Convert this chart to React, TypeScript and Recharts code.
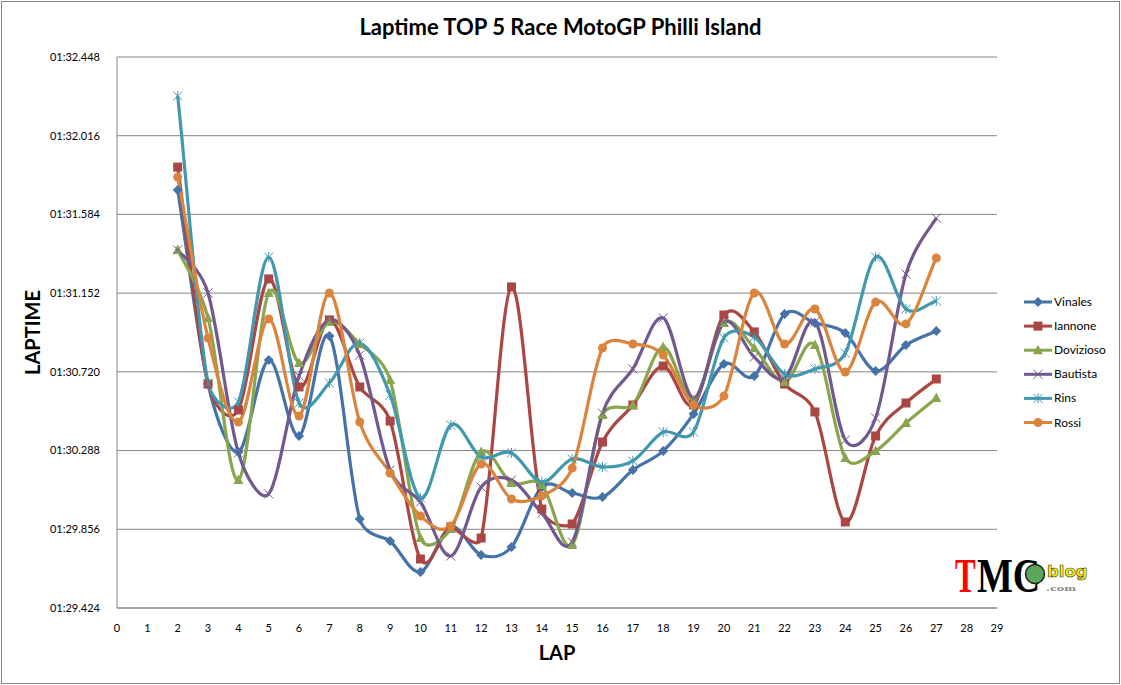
import { CartesianGrid, Line, LineChart, XAxis, YAxis } from "recharts";

const laps = [2, 3, 4, 5, 6, 7, 8, 9, 10, 11, 12, 13, 14, 15, 16, 17, 18, 19, 20, 21, 22, 23, 24, 25, 26, 27];

// lap times in seconds
const vinales = [91.718, 90.653, 90.28, 90.785, 90.368, 90.917, 89.912, 89.792, 89.622, 89.869, 89.715, 89.759, 90.088, 90.055, 90.033, 90.181, 90.286, 90.489, 90.763, 90.697, 91.037, 90.988, 90.933, 90.725, 90.867, 90.944];
const iannone = [91.844, 90.653, 90.511, 91.23, 90.637, 91.005, 90.637, 90.45, 89.693, 89.869, 89.808, 91.186, 89.967, 89.885, 90.335, 90.538, 90.752, 90.538, 91.032, 90.939, 90.653, 90.5, 89.896, 90.368, 90.549, 90.681];
const dovizioso = [91.389, 91.016, 90.126, 91.153, 90.769, 90.994, 90.873, 90.675, 89.808, 89.858, 90.28, 90.11, 90.099, 89.77, 90.483, 90.538, 90.856, 90.566, 90.988, 90.851, 90.664, 90.867, 90.247, 90.286, 90.439, 90.576];
const bautista = [91.389, 91.153, 90.275, 90.05, 90.697, 91.005, 90.812, 90.181, 90.006, 89.709, 90.088, 90.126, 89.945, 89.786, 90.494, 90.736, 91.016, 90.576, 90.994, 90.801, 90.686, 90.994, 90.346, 90.467, 91.257, 91.564];
const rins = [92.234, 90.659, 90.555, 91.35, 90.549, 90.659, 90.878, 90.593, 90.028, 90.428, 90.253, 90.275, 90.115, 90.242, 90.198, 90.231, 90.39, 90.39, 90.906, 90.911, 90.708, 90.736, 90.823, 91.35, 91.065, 91.109];
const rossi = [91.789, 90.906, 90.445, 91.01, 90.478, 91.153, 90.445, 90.165, 89.929, 89.874, 90.214, 90.022, 90.039, 90.192, 90.851, 90.873, 90.812, 90.538, 90.587, 91.153, 90.873, 91.065, 90.719, 91.103, 90.983, 91.345];

const yTicks = [89.424, 89.856, 90.288, 90.72, 91.152, 91.584, 92.016, 92.448];
const xTicks = [0, 1, 2, 3, 4, 5, 6, 7, 8, 9, 10, 11, 12, 13, 14, 15, 16, 17, 18, 19, 20, 21, 22, 23, 24, 25, 26, 27, 28, 29];

const series = [
  { key: "Vinales", values: vinales, color: "#4572A7", marker: "diamond" },
  { key: "Iannone", values: iannone, color: "#AA4643", marker: "square" },
  { key: "Dovizioso", values: dovizioso, color: "#89A54E", marker: "triangle" },
  { key: "Bautista", values: bautista, color: "#71588F", marker: "cross" },
  { key: "Rins", values: rins, color: "#4198AF", marker: "star" },
  { key: "Rossi", values: rossi, color: "#DB843D", marker: "circle" },
];

const data = laps.map((lap, i) => {
  const row: Record<string, number> = { lap };
  series.forEach((s) => {
    row[s.key] = s.values[i];
  });
  return row;
});

const FONT = "Lato, 'Open Sans', sans-serif";

function formatTime(v: number): string {
  const min = Math.floor(v / 60);
  const sec = v - min * 60;
  return `${String(min).padStart(2, "0")}:${sec.toFixed(3).padStart(6, "0")}`;
}

const dist = (a: number[], b: number[]) => Math.hypot(a[0] - b[0], a[1] - b[1]);

// Excel's smoothed line: 1/6 tangents, cut back when a segment is short next to its neighbours
function excelCurve(ctx: any) {
  let pts: number[][] = [];
  return {
    areaStart() {},
    areaEnd() {},
    lineStart() {
      pts = [];
    },
    point(x: number, y: number) {
      pts.push([+x, +y]);
    },
    lineEnd() {
      if (!pts.length) return;
      ctx.moveTo(pts[0][0], pts[0][1]);
      for (let i = 0; i < pts.length - 1; i++) {
        const first = i === 0;
        const last = i === pts.length - 2;
        const p0 = pts[Math.max(i - 1, 0)];
        const p1 = pts[i];
        const p2 = pts[i + 1];
        const p3 = pts[Math.min(i + 2, pts.length - 1)];
        const d02 = dist(p0, p2);
        const d12 = dist(p1, p2);
        const d13 = dist(p1, p3);
        let f1 = first ? 1 / 3 : 1 / 6;
        let f2 = last ? 1 / 3 : 1 / 6;
        const big1 = d02 / 6 >= d12 / 2;
        const big2 = d13 / 6 >= d12 / 2;
        if (big1 && big2) {
          f1 = d12 / d02 / 2;
          f2 = d12 / d13 / 2;
        } else if (big1) {
          f1 = d12 / d02 / 2;
          f2 = (d12 / d13 / 2) * (d13 / d02);
        } else if (big2) {
          f1 = (d12 / d02 / 2) * (d02 / d13);
          f2 = d12 / d13 / 2;
        }
        ctx.bezierCurveTo(
          p1[0] + (p2[0] - p0[0]) * f1,
          p1[1] + (p2[1] - p0[1]) * f1,
          p2[0] - (p3[0] - p1[0]) * f2,
          p2[1] - (p3[1] - p1[1]) * f2,
          p2[0],
          p2[1],
        );
      }
    },
  };
}

function Marker({ kind, cx, cy, color }: { kind: string; cx: number; cy: number; color: string }) {
  if (kind === "diamond")
    return <path d={`M${cx} ${cy - 5}L${cx + 5} ${cy}L${cx} ${cy + 5}L${cx - 5} ${cy}Z`} fill={color} />;
  if (kind === "square") return <rect x={cx - 4.5} y={cy - 4.5} width={9} height={9} fill={color} />;
  if (kind === "triangle")
    return <path d={`M${cx} ${cy - 5.5}L${cx + 5} ${cy + 4}L${cx - 5} ${cy + 4}Z`} fill={color} />;
  if (kind === "cross")
    return (
      <path d={`M${cx - 4.5} ${cy - 4.5}L${cx + 4.5} ${cy + 4.5}M${cx - 4.5} ${cy + 4.5}L${cx + 4.5} ${cy - 4.5}`} stroke={color} strokeWidth={1} fill="none" />
    );
  if (kind === "star")
    return (
      <path
        d={`M${cx - 4.5} ${cy - 4.5}L${cx + 4.5} ${cy + 4.5}M${cx - 4.5} ${cy + 4.5}L${cx + 4.5} ${cy - 4.5}M${cx} ${cy - 5}L${cx} ${cy + 5}`}
        stroke={color}
        strokeWidth={1}
        fill="none"
      />
    );
  return <circle cx={cx} cy={cy} r={4.5} fill={color} />;
}

function ChartLegend() {
  return (
    <svg width={100} height={145} style={{ position: "absolute", left: 1020, top: 290 }}>
      {series.map((s, i) => {
        const y = 12 + i * 24.1;
        return (
          <g key={s.key}>
            <line x1={4} x2={32} y1={y} y2={y} stroke={s.color} strokeWidth={3} />
            <Marker kind={s.marker} cx={18} cy={y} color={s.color} />
            <text x={34} y={y + 4} fontFamily={FONT} fontSize={12} fill="#000">
              {s.key}
            </text>
          </g>
        );
      })}
    </svg>
  );
}

function Logo() {
  return (
    <svg width={170} height={90} style={{ position: "absolute", left: 940, top: 520 }}>
      <text transform="translate(15 72) scale(1 1.6)" fontFamily="'Liberation Serif', serif" fontWeight="bold" fontSize={31} fill="#ff0000">
        T
      </text>
      <text transform="translate(37 72) scale(1 1.3)" fontFamily="'Liberation Serif', serif" fontWeight="bold" fontSize={38} fill="#000">
        MC
      </text>
      <circle cx={95} cy={54} r={9.5} fill="#5aa65a" stroke="#222" strokeWidth={1.5} />
      <text x={107} y={57} fontFamily="'DejaVu Sans', sans-serif" fontWeight="bold" fontSize={16.5} fill="#ffee00" stroke="#333" strokeWidth={0.6}>
        blog
      </text>
      <text transform="translate(106 71) scale(1.4 1)" fontFamily="'DejaVu Serif', serif" fontWeight="bold" fontSize={8} fill="#888">
        .com
      </text>
    </svg>
  );
}

export default function App() {
  return (
    <div style={{ position: "absolute", left: 0, top: 0, width: 1121, height: 685, background: "#fff", overflow: "hidden" }}>
      <div style={{ position: "absolute", left: 1, top: 1, width: 1117, height: 681, border: "1px solid #868686" }} />
      <div
        style={{
          position: "absolute",
          left: 0,
          top: 13,
          width: 1121,
          textAlign: "center",
          fontFamily: FONT,
          fontWeight: "bold",
          fontSize: 22,
          color: "#000",
        }}
      >
        Laptime TOP 5 Race MotoGP Philli Island
      </div>
      <div style={{ position: "absolute", left: 0, top: 0 }}>
        <LineChart width={1121} height={685} data={data} margin={{ top: 57, right: 124, bottom: 0, left: 0 }}>
          <CartesianGrid horizontal vertical={false} stroke="#868686" />
          <XAxis
            dataKey="lap"
            type="number"
            domain={[0, 29]}
            ticks={xTicks}
            interval={0}
            height={77}
            tickLine={false}
            stroke="#868686"
            tickMargin={10}
            tick={{ fill: "#000", fontSize: 11, fontFamily: FONT }}
            label={{ value: "LAP", position: "insideTop", dy: 33, fill: "#000", fontSize: 20, fontWeight: "bold", fontFamily: FONT }}
          />
          <YAxis
            type="number"
            domain={[89.424, 92.448]}
            ticks={yTicks}
            interval={0}
            width={117}
            allowDataOverflow
            tickLine={false}
            stroke="#868686"
            tickMargin={11}
            tickFormatter={formatTime}
            tick={{ fill: "#000", fontSize: 11, fontFamily: FONT }}
            label={{ value: "LAPTIME", angle: -90, position: "insideLeft", dx: 28, dy: 0, fill: "#000", fontSize: 20, fontWeight: "bold", fontFamily: FONT, style: { textAnchor: "middle" } }}
          />
          {series.map((s) => (
            <Line
              key={s.key}
              dataKey={s.key}
              type={excelCurve as any}
              stroke={s.color}
              strokeWidth={3.2}
              isAnimationActive={false}
              dot={(p: any) => <Marker key={p.index} kind={s.marker} cx={p.cx} cy={p.cy} color={s.color} />}
            />
          ))}
        </LineChart>
      </div>
      <ChartLegend />
      <Logo />
    </div>
  );
}
